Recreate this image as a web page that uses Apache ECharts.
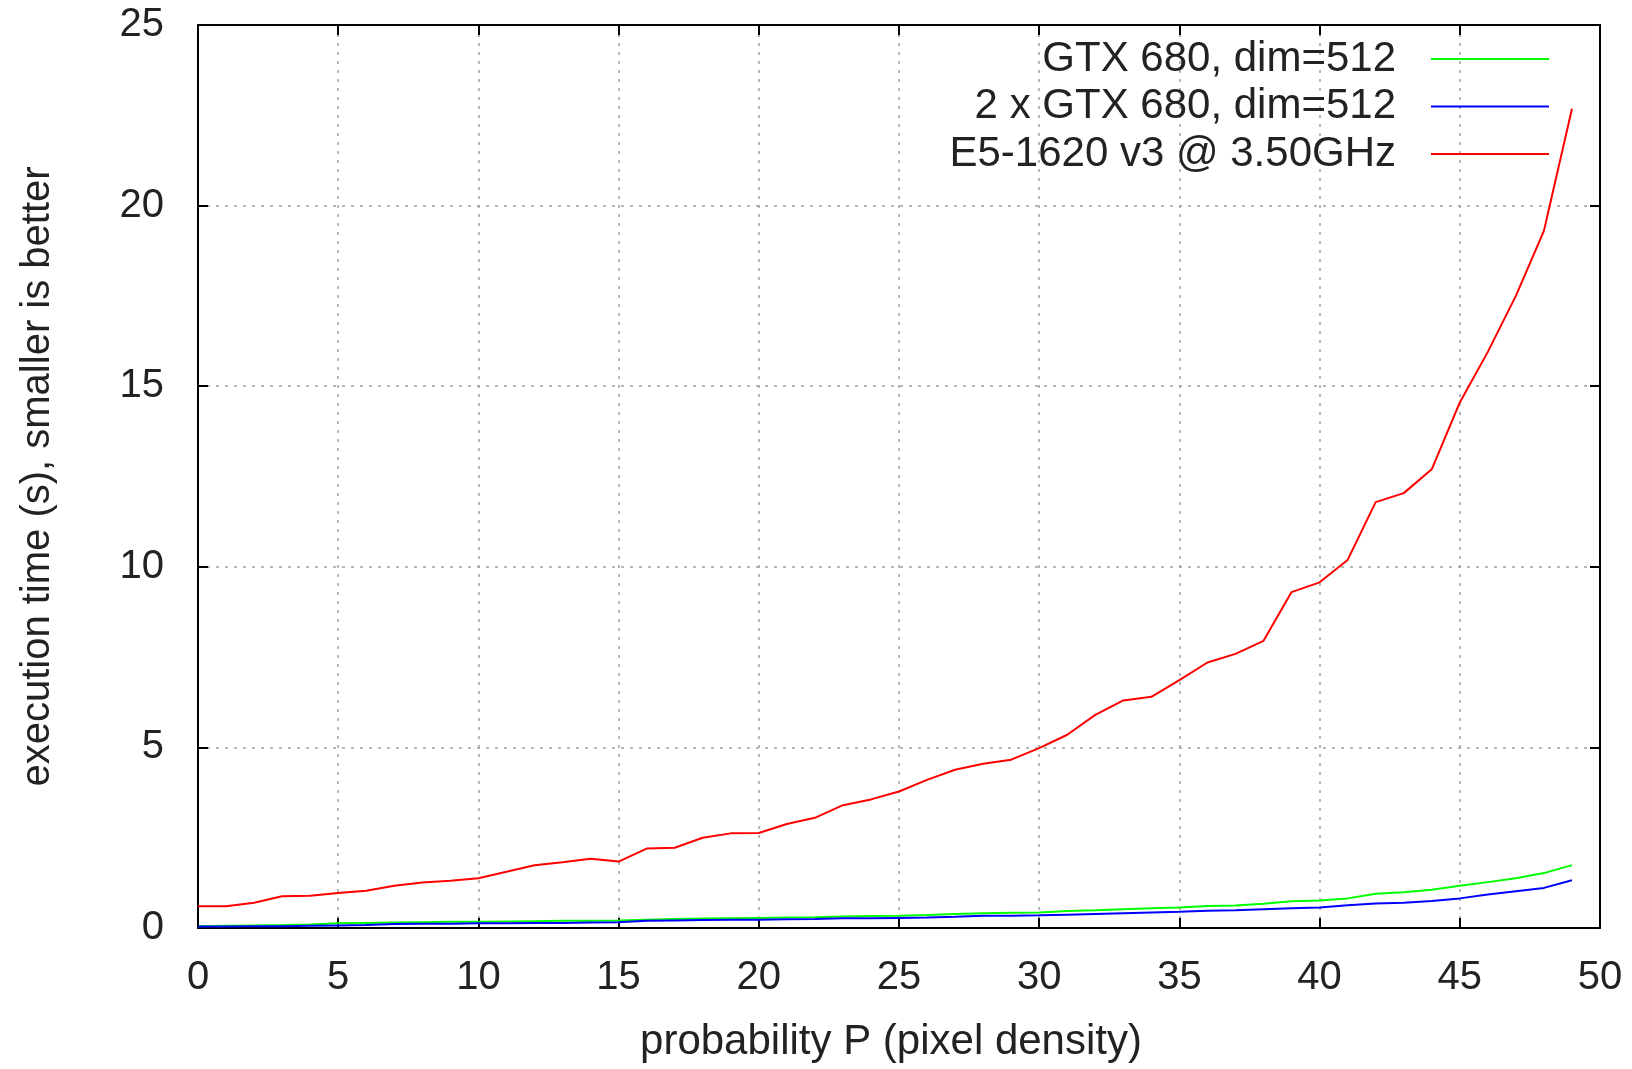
<!DOCTYPE html>
<html>
<head>
<meta charset="utf-8">
<script src="https://cdn.jsdelivr.net/npm/echarts@6/dist/echarts.min.js"></script>
<style>
html,body{margin:0;padding:0;background:#fff;}
#chart{width:1632px;height:1069px;}
</style>
</head>
<body>
<div id="chart"></div>
<script>
// ---- data ----
const xValues = [0,1,2,3,4,5,6,7,8,9,10,11,12,13,14,15,16,17,18,19,20,21,22,23,24,25,26,27,28,29,30,31,32,33,34,35,36,37,38,39,40,41,42,43,44,45,46,47,48,49];
const seriesNames = ["GTX 680, dim=512", "2 x GTX 680, dim=512", "E5-1620 v3 @ 3.50GHz"];
const gtx680 = [0.05,0.06,0.07,0.08,0.10,0.13,0.14,0.15,0.16,0.17,0.17,0.18,0.19,0.20,0.20,0.21,0.23,0.25,0.26,0.27,0.28,0.29,0.30,0.32,0.33,0.34,0.36,0.39,0.41,0.42,0.43,0.47,0.49,0.52,0.55,0.57,0.61,0.62,0.67,0.74,0.76,0.82,0.95,0.99,1.06,1.17,1.27,1.38,1.52,1.74];
const gtx680x2 = [0.04,0.04,0.05,0.05,0.06,0.07,0.08,0.11,0.12,0.12,0.13,0.13,0.14,0.14,0.15,0.16,0.20,0.21,0.22,0.23,0.23,0.24,0.25,0.27,0.27,0.28,0.29,0.31,0.34,0.34,0.35,0.37,0.39,0.41,0.43,0.45,0.48,0.49,0.52,0.55,0.57,0.63,0.68,0.70,0.75,0.82,0.93,1.02,1.11,1.32];
const cpuE5 = [0.60,0.60,0.70,0.88,0.89,0.97,1.03,1.17,1.26,1.31,1.38,1.56,1.74,1.82,1.92,1.84,2.20,2.22,2.50,2.62,2.63,2.88,3.05,3.40,3.56,3.78,4.10,4.38,4.55,4.66,4.98,5.35,5.90,6.30,6.40,6.86,7.35,7.59,7.95,9.30,9.57,10.19,11.79,12.04,12.70,14.55,15.95,17.50,19.30,22.68];
const xTitle = "probability P (pixel density)";
const yTitle = "execution time (s), smaller is better";
const colors = ["#00ff00", "#0000ff", "#ff0000"];

// ---- chart ----
const FONT = "Liberation Sans";
const TXT = "#222";
const pair = (ys) => xValues.map((x, i) => [x, ys[i]]);
const gridLine = {show: true, lineStyle: {color: "#a0a0a0", width: 1.5, type: [3, 6]}};
const axisLine = {show: true, onZero: false, lineStyle: {color: "#000", width: 2}};
const axisTick = {show: true, inside: true, length: 10, lineStyle: {color: "#000", width: 2}};

const chart = echarts.init(document.getElementById("chart"), null, {renderer: "canvas"});
chart.setOption({
  animation: false,
  backgroundColor: "#fff",
  color: colors,
  textStyle: {fontFamily: FONT},
  grid: {left: 198, right: 32, top: 25, bottom: 141, containLabel: false},
  legend: {
    orient: "vertical",
    align: "right",
    right: 83,
    top: 38,
    padding: 0,
    itemGap: 5.5,
    itemWidth: 118,
    itemHeight: 2,
    icon: "rect",
    data: seriesNames,
    textStyle: {fontFamily: FONT, fontSize: 42, color: TXT, lineHeight: 40, padding: [0, 30, 0, 0]}
  },
  xAxis: [
    {
      type: "value", min: 0, max: 50, interval: 5, position: "bottom",
      name: xTitle, nameLocation: "middle", nameGap: 93, nameMoveOverlap: false,
      nameTextStyle: {fontFamily: FONT, fontSize: 42, color: TXT, padding: [0, 16, 0, 0]},
      axisLine: axisLine, axisTick: axisTick,
      axisLabel: {fontFamily: FONT, fontSize: 40, color: TXT, margin: 30},
      splitLine: gridLine
    },
    {
      type: "value", min: 0, max: 50, interval: 5, position: "top",
      axisLine: axisLine, axisTick: axisTick,
      axisLabel: {show: false}, splitLine: {show: false}
    }
  ],
  yAxis: [
    {
      type: "value", min: 0, max: 25, interval: 5, position: "left",
      name: yTitle, nameLocation: "middle", nameGap: 140, nameRotate: 90, nameMoveOverlap: false,
      nameTextStyle: {fontFamily: FONT, fontSize: 40, color: TXT},
      axisLine: axisLine, axisTick: axisTick,
      axisLabel: {fontFamily: FONT, fontSize: 40, color: TXT, margin: 34},
      splitLine: gridLine
    },
    {
      type: "value", min: 0, max: 25, interval: 5, position: "right",
      axisLine: axisLine, axisTick: axisTick,
      axisLabel: {show: false}, splitLine: {show: false}
    }
  ],
  series: [
    {name: seriesNames[0], type: "line", data: pair(gtx680), showSymbol: false, symbol: "none", lineStyle: {width: 2, color: colors[0]}, itemStyle: {color: colors[0]}, z: 3},
    {name: seriesNames[1], type: "line", data: pair(gtx680x2), showSymbol: false, symbol: "none", lineStyle: {width: 2, color: colors[1]}, itemStyle: {color: colors[1]}, z: 4},
    {name: seriesNames[2], type: "line", data: pair(cpuE5), showSymbol: false, symbol: "none", lineStyle: {width: 2, color: colors[2]}, itemStyle: {color: colors[2]}, z: 5}
  ]
});
</script>
</body>
</html>
